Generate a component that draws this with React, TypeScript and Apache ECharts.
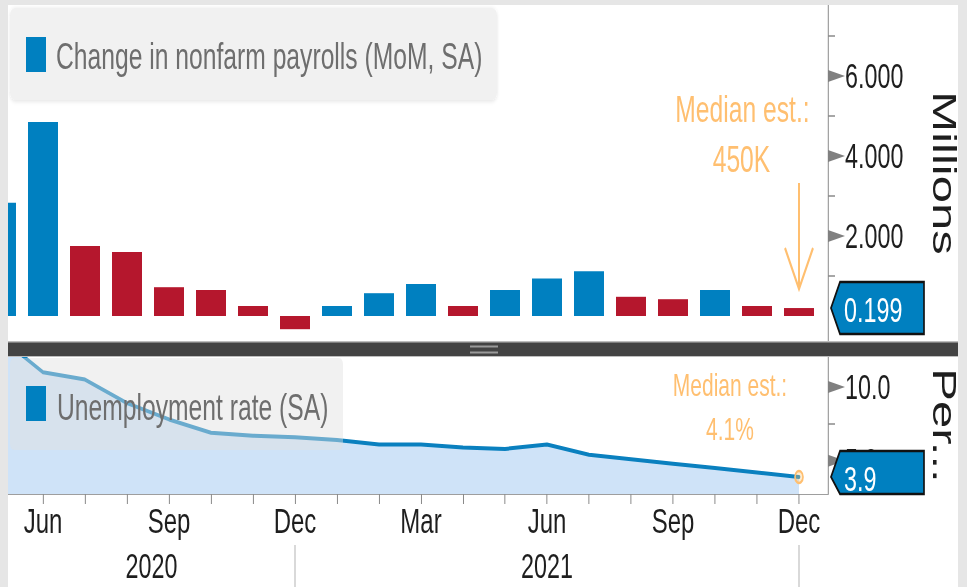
import React, { useEffect, useRef } from "react";
import * as echarts from "echarts";

// ---------------- data ----------------
const months = ["May", "Jun", "Jul", "Aug", "Sep", "Oct", "Nov", "Dec", "Jan", "Feb", "Mar", "Apr", "May", "Jun", "Jul", "Aug", "Sep", "Oct", "Nov", "Dec"];
const years = ["2020", "2021"];
const yearEndMonth = [7, 19]; // month index of each year's December
const payrolls = [2.83, 4.85, 1.75, 1.6, 0.72, 0.65, 0.25, -0.33, 0.25, 0.57, 0.8, 0.25, 0.65, 0.94, 1.12, 0.48, 0.42, 0.65, 0.25, 0.199];
const unemployment = [13.3, 11.0, 10.5, 8.9, 7.8, 6.9, 6.7, 6.6, 6.4, 6.1, 6.1, 5.9, 5.8, 6.1, 5.4, 5.1, 4.8, 4.5, 4.2, 3.9];
const monthTicks = [1, 2, 3, 4, 5, 6, 7, 8, 9, 10, 11, 12, 13, 14, 15, 16, 17, 18, 19];
const monthLabelTicks = [1, 4, 7, 10, 13, 16, 19];
const payrollTicks = [1, 2, 3, 4, 5, 6, 7];
const payrollLabelTicks = [2, 4, 6];
const rateTicks = [5, 7.5, 10];
const rateLabelTicks = [5, 10];
const payrollTitle = "Change in nonfarm payrolls (MoM, SA)";
const rateTitle = "Unemployment rate (SA)";
const payrollEstimate = ["Median est.:", "450K"];
const rateEstimate = ["Median est.:", "4.1%"];
const payrollUnit = "Millions";
const rateUnit = "Per...";

// ---------------- layout ----------------
const W = 967;
const H = 587;
const CW = 1450; // chart drawn wide, then condensed horizontally
const SX = CW / W;
const px = (x: number) => x * SX;

const FONT = "Liberation Sans, Arial, sans-serif";
const BLUE = "#0080c0";
const RED = "#b5172d";
const AXIS = "#8a8a8a";
const TEXT = "#1e1e1e";
const ORANGE = "#ffbf70";

const GRID_LEFT = px(8);
const GRID_RIGHT_EDGE = px(828);
const GRID_RIGHT = CW - GRID_RIGHT_EDGE;
const MONTH_PX = px(42);
const MONTH0_X = px(1);
const X_MIN = (GRID_LEFT - MONTH0_X) / MONTH_PX;
const X_MAX = (GRID_RIGHT_EDGE - MONTH0_X) / MONTH_PX;

const TOP_TOP = 5;
const TOP_BOTTOM = 341;
const ZERO_Y = 316;
const PX_PER_M = 40;
const Y0_MIN = -(TOP_BOTTOM - ZERO_Y) / PX_PER_M;
const Y0_MAX = (ZERO_Y - TOP_TOP) / PX_PER_M;

const LOW_TOP = 357;
const LOW_BOTTOM = 494;
const Y1_MIN = 2.746;
const Y1_MAX = 12.03;

const barColors = payrolls.map((v, i) => (i === 0 || v > payrolls[i - 1] ? BLUE : RED));

function arrowSeries(axisIdx: number, values: number[]) {
  return {
    type: "custom",
    xAxisIndex: axisIdx,
    yAxisIndex: axisIdx,
    silent: true,
    clip: false,
    z: 5,
    data: values.map((v) => [X_MAX, v]),
    renderItem: (_p: any, api: any) => {
      const p = api.coord([api.value(0), api.value(1)]);
      return {
        type: "polygon",
        shape: { points: [[p[0], p[1] - 6], [p[0] + px(17), p[1]], [p[0], p[1] + 6]] },
        style: { fill: "#808080" },
      };
    },
  };
}

function tagSeries(axisIdx: number, value: number, decimals: number, yMin: number) {
  return {
    type: "custom",
    xAxisIndex: axisIdx,
    yAxisIndex: axisIdx,
    silent: true,
    clip: false,
    z: 10,
    data: [[X_MAX, value]],
    renderItem: (_p: any, api: any) => {
      const p = api.coord([api.value(0), api.value(1)]);
      const floor = api.coord([api.value(0), yMin])[1];
      const top = p[1] - 26;
      const bottom = Math.min(p[1] + 26, floor);
      const x0 = p[0] + px(3);
      const x1 = p[0] + px(12);
      const x2 = p[0] + px(96);
      return {
        type: "group",
        children: [
          {
            type: "polygon",
            shape: { points: [[x0, p[1]], [x1, top], [x2, top], [x2, bottom], [x1, bottom]] },
            style: { fill: BLUE, stroke: "#111111", lineWidth: 2.5 },
          },
          {
            type: "text",
            style: {
              text: Number(api.value(1)).toFixed(decimals),
              x: p[0] + px(16),
              y: p[1] + 2,
              fill: "#ffffff",
              fontSize: 35,
              fontFamily: FONT,
              align: "left",
              verticalAlign: "middle",
              textAlign: "left",
              textVerticalAlign: "middle",
            },
          },
        ],
      };
    },
  };
}

function textEl(text: string, x: number, y: number, size: number, color: string, align = "left", z = 60) {
  return {
    type: "text",
    z,
    silent: true,
    style: {
      text,
      x,
      y,
      fill: color,
      fontSize: size,
      fontFamily: FONT,
      align,
      verticalAlign: "middle",
      textAlign: align,
      textVerticalAlign: "middle",
    },
  };
}

export default function App() {
  const ref = useRef<HTMLDivElement>(null);

  useEffect(() => {
    if (!ref.current) return;
    const chart = echarts.init(ref.current, null, { renderer: "svg" });

    const yAxisCommon = {
      type: "value",
      position: "right",
      splitLine: { show: false },
      axisLine: { show: true, lineStyle: { color: AXIS, width: 1.5 } },
      nameLocation: "middle",
      nameRotate: -90,
      nameGap: 150,
      nameTextStyle: { fontSize: 49, color: TEXT, fontFamily: FONT },
    };

    const option: any = {
      animation: false,
      backgroundColor: "#ffffff",
      grid: [
        { left: GRID_LEFT, right: GRID_RIGHT, top: TOP_TOP, height: TOP_BOTTOM - TOP_TOP },
        { left: GRID_LEFT, right: GRID_RIGHT, top: LOW_TOP, height: LOW_BOTTOM - LOW_TOP },
      ],
      xAxis: [
        { gridIndex: 0, type: "value", min: X_MIN, max: X_MAX, show: false },
        {
          gridIndex: 1,
          type: "value",
          min: X_MIN,
          max: X_MAX,
          splitLine: { show: false },
          axisLine: { show: true, lineStyle: { color: AXIS, width: 1 } },
          axisTick: { show: true, customValues: monthTicks, length: 10, lineStyle: { color: AXIS, width: 1.5 } },
          axisLabel: {
            customValues: monthLabelTicks,
            formatter: (v: number) => months[Math.round(v)],
            fontSize: 36,
            color: TEXT,
            fontFamily: FONT,
            margin: 8,
          },
        },
      ],
      yAxis: [
        {
          ...yAxisCommon,
          gridIndex: 0,
          min: Y0_MIN,
          max: Y0_MAX,
          name: payrollUnit,
          axisTick: { show: true, customValues: payrollTicks, length: px(7), lineStyle: { color: AXIS, width: 1.5 } },
          axisLabel: {
            customValues: payrollLabelTicks,
            formatter: (v: number) => v.toFixed(3),
            fontSize: 35,
            color: TEXT,
            fontFamily: FONT,
            margin: px(17),
          },
        },
        {
          ...yAxisCommon,
          gridIndex: 1,
          min: Y1_MIN,
          max: Y1_MAX,
          name: rateUnit,
          axisTick: { show: true, customValues: rateTicks, length: px(7), lineStyle: { color: AXIS, width: 1.5 } },
          axisLabel: {
            customValues: rateLabelTicks,
            formatter: (v: number) => v.toFixed(1),
            fontSize: 35,
            color: TEXT,
            fontFamily: FONT,
            margin: px(17),
          },
        },
      ],
      series: [
        {
          name: payrollTitle,
          type: "bar",
          xAxisIndex: 0,
          yAxisIndex: 0,
          barWidth: px(30),
          clip: true,
          data: payrolls.map((v, i) => ({ value: [i, v], itemStyle: { color: barColors[i] } })),
        },
        {
          name: rateTitle,
          type: "line",
          xAxisIndex: 1,
          yAxisIndex: 1,
          symbol: "none",
          clip: true,
          lineStyle: { color: "#0a80bf", width: 4, cap: "round", join: "round" },
          areaStyle: { color: "#cfe3f8", opacity: 1, origin: "start" },
          data: unemployment.map((v, i) => [i, v]),
          markPoint: {
            silent: true,
            symbol: "circle",
            symbolSize: 12,
            label: { show: false },
            itemStyle: { color: "rgba(255,200,120,0.35)", borderColor: ORANGE, borderWidth: 2.5 },
            data: [{ coord: [unemployment.length - 1, unemployment[unemployment.length - 1]] }],
          },
        },
        arrowSeries(0, payrollLabelTicks),
        arrowSeries(1, rateLabelTicks),
        tagSeries(0, payrolls[payrolls.length - 1], 3, Y0_MIN),
        tagSeries(1, unemployment[unemployment.length - 1], 1, Y1_MIN),
        {
          type: "custom",
          xAxisIndex: 1,
          yAxisIndex: 1,
          silent: true,
          clip: false,
          z: 5,
          data: years.map((_y, i) => [i === 0 ? X_MIN : yearEndMonth[i - 1], yearEndMonth[i], i]),
          renderItem: (_p: any, api: any) => {
            const a = api.coord([api.value(0), Y1_MIN]);
            const b = api.coord([api.value(1), Y1_MIN]);
            return {
              type: "group",
              children: [
                {
                  type: "text",
                  style: {
                    text: years[api.value(2)],
                    x: (a[0] + b[0]) / 2,
                    y: a[1] + 72,
                    fill: TEXT,
                    fontSize: 35,
                    fontFamily: FONT,
                    align: "center",
                    verticalAlign: "middle",
                    textAlign: "center",
                    textVerticalAlign: "middle",
                  },
                },
                {
                  type: "line",
                  shape: { x1: b[0], y1: a[1] + 51, x2: b[0], y2: a[1] + 100 },
                  style: { stroke: "#b4b4b4", lineWidth: 1.5 },
                },
              ],
            };
          },
        },
      ],
      graphic: [
        // outer frame
        { type: "rect", z: 100, silent: true, shape: { x: 0, y: 0, width: CW, height: 5 }, style: { fill: "#e6e6e6" } },
        { type: "rect", z: 100, silent: true, shape: { x: 0, y: 0, width: px(8), height: H }, style: { fill: "#e6e6e6" } },
        { type: "rect", z: 100, silent: true, shape: { x: px(958), y: 0, width: CW - px(958), height: H }, style: { fill: "#e6e6e6" } },
        // panel separator
        { type: "rect", z: 100, silent: true, shape: { x: px(8), y: 341, width: px(950), height: 16 }, style: { fill: "#bdbdbd" } },
        { type: "rect", z: 101, silent: true, shape: { x: px(8), y: 342.5, width: px(950), height: 13.5 }, style: { fill: "#434343" } },
        { type: "rect", z: 102, silent: true, shape: { x: px(470), y: 345.5, width: px(28), height: 2 }, style: { fill: "#9a9a9a" } },
        { type: "rect", z: 102, silent: true, shape: { x: px(470), y: 351.5, width: px(28), height: 2 }, style: { fill: "#9a9a9a" } },
        // top legend
        {
          type: "rect",
          z: 50,
          silent: true,
          shape: { x: px(10), y: 8, width: px(487), height: 92, r: 8 },
          style: { fill: "#f1f1f1", shadowBlur: 5, shadowColor: "rgba(0,0,0,0.12)", shadowOffsetY: 1 },
        },
        { type: "rect", z: 51, silent: true, shape: { x: px(26), y: 37, width: px(20), height: 35 }, style: { fill: BLUE } },
        textEl(payrollTitle, px(56), 57, 37, "#6e6e6e"),
        // lower legend
        {
          type: "rect",
          z: 50,
          silent: true,
          shape: { x: px(10), y: 358, width: px(333), height: 92, r: 6 },
          style: { fill: "rgba(224,224,224,0.45)" },
        },
        { type: "rect", z: 51, silent: true, shape: { x: px(26), y: 386, width: px(20), height: 35 }, style: { fill: BLUE } },
        textEl(rateTitle, px(57), 408, 37, "#6e6e6e"),
        // estimates
        textEl(payrollEstimate[0], px(742.5), 110, 37, ORANGE, "center"),
        textEl(payrollEstimate[1], px(741.5), 160, 37, ORANGE, "center"),
        { type: "line", z: 60, silent: true, shape: { x1: px(799), y1: 183, x2: px(799), y2: 289 }, style: { stroke: ORANGE, lineWidth: 3 } },
        {
          type: "polyline",
          z: 60,
          silent: true,
          shape: { points: [[px(785), 248], [px(799), 289], [px(813), 248]] },
          style: { stroke: ORANGE, lineWidth: 3, fill: null },
        },
        textEl(rateEstimate[0], px(730), 385, 31.5, ORANGE, "center"),
        textEl(rateEstimate[1], px(730), 429, 31.5, ORANGE, "center"),
      ],
    };

    chart.setOption(option);
    return () => chart.dispose();
  }, []);

  return (
    <div style={{ position: "absolute", left: 0, top: 0, width: W, height: H, overflow: "hidden", background: "#ffffff" }}>
      <div
        ref={ref}
        style={{ width: CW, height: H, transform: `scaleX(${W / CW})`, transformOrigin: "0 0" }}
      />
    </div>
  );
}
